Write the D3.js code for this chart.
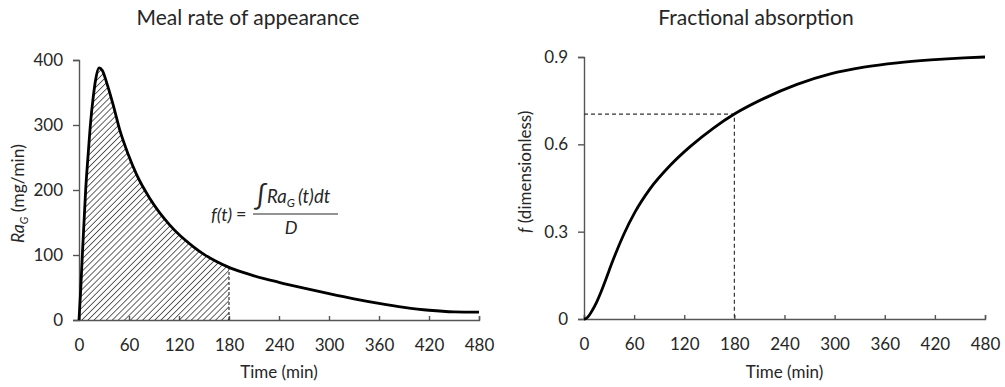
<!DOCTYPE html>
<html>
<head>
<meta charset="utf-8">
<script src="https://cdn.jsdelivr.net/npm/d3@7"></script>
<style>
body { margin: 0; background: #fff; }
svg text { font-family: Lato, "Open Sans", sans-serif; fill: #262626; }
</style>
</head>
<body>
<svg id="chart" width="1005" height="387"></svg>
<script>
// meal rate of appearance (mg/min)
var raTime = [0, 2, 4, 6, 8, 11, 14, 17, 20, 24, 28, 33, 41, 49, 59, 69, 85, 109, 137, 150, 165, 180, 195, 210, 240, 270, 300, 330, 360, 390, 420, 450, 480]
var raValue = [0, 45, 100, 150, 200, 255, 305, 342, 370, 388, 384, 366, 331, 292, 255, 224, 187, 146, 113, 101, 90, 81, 74, 68, 58, 49, 40.5, 32.5, 25.5, 19.5, 15, 12.5, 12]

// fractional absorption
var fTime = [0, 2, 5, 10, 15, 20, 25, 30, 35, 47, 61, 79, 103, 127, 155, 180, 215, 255, 295, 335, 375, 415, 455, 480]
var fValue = [0, 0.001, 0.008, 0.03, 0.057, 0.09, 0.127, 0.166, 0.204, 0.287, 0.367, 0.447, 0.527, 0.592, 0.656, 0.704, 0.757, 0.806, 0.842, 0.865, 0.88, 0.89, 0.897, 0.9]

var timeTicks = [0, 60, 120, 180, 240, 300, 360, 420, 480]
var raTicks = [0, 100, 200, 300, 400]
var fTicks = [0, 0.3, 0.6, 0.9]
var cutTime = 180

var svg = d3.select("#chart")

var raData = raTime.map((t, i) => ({t: t, v: raValue[i]}))
var fData = fTime.map((t, i) => ({t: t, v: fValue[i]}))

//Draws one panel's axes and returns its scales
var panel = function(x0, x1, y0, y1, yMax, yTicks, yFmt, title, titleX) {
  var x = d3.scaleLinear().domain([0, 480]).range([x0, x1])
  var y = d3.scaleLinear().domain([0, yMax]).range([y0, y1])
  var g = svg.append("g")

  var xAxis = g.append("g")
    .attr("transform", "translate(0," + y0 + ")")
    .call(d3.axisBottom(x).tickValues(timeTicks).tickSize(-4).tickPadding(19))
  var yAxis = g.append("g")
    .attr("transform", "translate(" + x0 + ",0)")
    .call(d3.axisLeft(y).tickValues(yTicks).tickFormat(yFmt).tickSize(6).tickPadding(10))

  ;[xAxis, yAxis].forEach(a => {
    a.selectAll("path").attr("stroke", "#555").attr("stroke-width", 1.4)
    a.selectAll("line").attr("stroke", "#555").attr("stroke-width", 1.4)
    a.selectAll("text").style("font-size", "17px").attr("fill", "#262626")
  })

  g.append("text")
    .attr("x", titleX).attr("y", 25)
    .attr("text-anchor", "middle")
    .style("font-size", "21px")
    .text(title)

  g.append("text")
    .attr("x", (x0 + x1) / 2).attr("y", 378)
    .attr("text-anchor", "middle")
    .style("font-size", "17px")
    .text("Time (min)")

  return {x: x, y: y, g: g}
}

// left panel
var L = panel(79, 479, 320, 60, 400, raTicks, d3.format("d"), "Meal rate of appearance", 248)

var defs = svg.append("defs")
var pat = defs.append("pattern")
  .attr("id", "hatch")
  .attr("patternUnits", "userSpaceOnUse")
  .attr("width", 4.3).attr("height", 4.3)
  .attr("patternTransform", "rotate(45)")
pat.append("line")
  .attr("x1", 0).attr("y1", 0).attr("x2", 0).attr("y2", 4.3)
  .attr("stroke", "#111").attr("stroke-width", 1.3)

var raArea = d3.area()
  .x(d => L.x(d.t)).y0(L.y(0)).y1(d => L.y(d.v))
  .curve(d3.curveMonotoneX)

L.g.append("path")
  .datum(raData.filter(d => d.t <= cutTime))
  .attr("d", raArea)
  .attr("fill", "url(#hatch)")

var raCut = raData.find(d => d.t == cutTime)
L.g.append("line")
  .attr("x1", L.x(cutTime)).attr("x2", L.x(cutTime))
  .attr("y1", L.y(0)).attr("y2", L.y(raCut.v))
  .attr("stroke", "#333").attr("stroke-width", 1.2)
  .attr("stroke-dasharray", "3,2")

var raLine = d3.line()
  .x(d => L.x(d.t)).y(d => L.y(d.v))
  .curve(d3.curveMonotoneX)

L.g.append("path")
  .datum(raData)
  .attr("d", raLine)
  .attr("fill", "none")
  .attr("stroke", "#000")
  .attr("stroke-width", 2.8)

// y label with subscript
var ly = L.g.append("text")
  .attr("transform", "translate(24,243) rotate(-90)")
  .style("font-size", "17.5px")
ly.append("tspan").style("font-style", "italic").text("Ra")
ly.append("tspan").style("font-style", "italic").style("font-size", "11px").attr("dy", 4).text("G")
ly.append("tspan").attr("dy", -4).text(" (mg/min)")

// formula f(t) = integral Ra_G(t)dt / D
var fx = L.g.append("g").style("font-style", "italic")
fx.append("text").attr("x", 211).attr("y", 221).style("font-size", "18px").text("f(t)")
fx.append("text").attr("x", 236).attr("y", 220).style("font-size", "18px").style("font-style", "normal").text("=")
fx.append("line")
  .attr("x1", 253).attr("x2", 338).attr("y1", 214).attr("y2", 214)
  .attr("stroke", "#262626").attr("stroke-width", 1)
var num = fx.append("text").attr("x", 255).attr("y", 203).style("font-size", "18.5px")
num.append("tspan").style("font-size", "27px").attr("dy", 2).text("∫")
num.append("tspan").attr("dy", -2).attr("dx", 1).text("Ra")
num.append("tspan").style("font-size", "12px").attr("dy", 4).text("G")
num.append("tspan").attr("dy", -4).attr("dx", 3).text("(t)dt")
fx.append("text").attr("x", 291).attr("y", 234).attr("text-anchor", "middle").style("font-size", "18px").text("D")

// right panel
var R = panel(584, 985, 319, 57, 0.9, fTicks, d => d == 0 ? "0" : d3.format(".1f")(d), "Fractional absorption", 756)

var fCut = fData.find(d => d.t == cutTime)
R.g.append("path")
  .attr("d", "M" + R.x(0) + "," + R.y(fCut.v) + "H" + R.x(cutTime) + "V" + R.y(0))
  .attr("fill", "none")
  .attr("stroke", "#333").attr("stroke-width", 1.2)
  .attr("stroke-dasharray", "4,3")

var fLine = d3.line()
  .x(d => R.x(d.t)).y(d => R.y(d.v))
  .curve(d3.curveMonotoneX)

R.g.append("path")
  .datum(fData)
  .attr("d", fLine)
  .attr("fill", "none")
  .attr("stroke", "#000")
  .attr("stroke-width", 2.8)

var ry = R.g.append("text")
  .attr("transform", "translate(531,233) rotate(-90)")
  .style("font-size", "17px")
ry.append("tspan").style("font-style", "italic").text("f")
ry.append("tspan").text(" (dimensionless)")
</script>
</body>
</html>
